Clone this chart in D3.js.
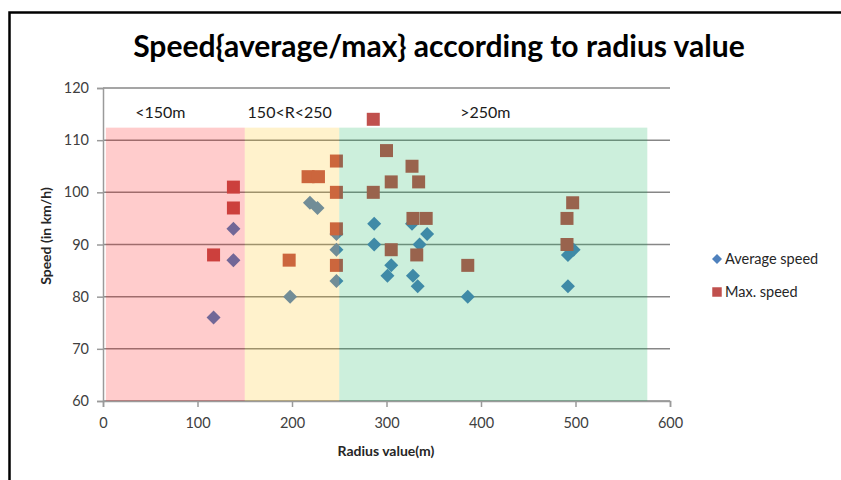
<!DOCTYPE html>
<html>
<head>
<meta charset="utf-8">
<script src="https://cdn.jsdelivr.net/npm/d3@7"></script>
<style>
  body { margin: 0; background: #fff; }
  svg { display: block; font-family: Lato, "Open Sans", sans-serif; }
</style>
</head>
<body>
<svg id="chart" width="841" height="480"></svg>
<script>
// values
const avgRadius = [117, 138, 138, 198, 219, 227, 247, 247, 247, 287, 287, 301, 305, 327, 328, 333, 335, 343, 386, 492, 498, 492];
const avgSpeed  = [76, 93, 87, 80, 98, 97, 92, 89, 83, 94, 90, 84, 86, 94, 84, 82, 90, 92, 80, 88, 89, 82];
const maxRadius = [117, 138, 138, 197, 217, 228, 247, 247, 247, 247, 286, 286, 300, 305, 305, 327, 334, 328, 342, 332, 386, 491, 491, 497];
const maxSpeed  = [88, 101, 97, 87, 103, 103, 106, 100, 93, 86, 114, 100, 108, 102, 89, 105, 102, 95, 95, 88, 86, 95, 90, 98];

const bandLabels = ['<150m', '150<R<250', '>250m'];
const bandFrom = [3, 150, 250];
const bandTo = [150, 250, 576];
const bandTop = 112.4;
const bandLabelAt = [34, 153, 378];
const bandColors = ['#ff0000', '#ffc000', '#00b050'];

const xTicks = [0, 100, 200, 300, 400, 500, 600];
const yTicks = [60, 70, 80, 90, 100, 110, 120];

const svg = d3.select('#chart');
const x = d3.scaleLinear().domain([0, 600]).range([103, 670]);
const y = d3.scaleLinear().domain([60, 120]).range([401, 88]);

const zip = (a, b) => a.map((d, i) => [d, b[i]]);

// outer frame
svg.append('rect')
  .attr('x', 9.5).attr('y', 12.5)
  .attr('width', 900).attr('height', 600)
  .attr('fill', 'none').attr('stroke', '#000').attr('stroke-width', 2.5);

// title, fitted to the width it has in the picture
const title = svg.append('text')
  .attr('x', 439).attr('y', 57)
  .attr('text-anchor', 'middle')
  .attr('font-weight', 'bold')
  .attr('font-size', 28)
  .attr('fill', '#000')
  .text('Speed{average/max} according to radius value');
const tw = title.node().getComputedTextLength();
title.attr('font-size', 28 * 612 / tw);

// gridlines
svg.append('g').attr('class', 'grid')
  .selectAll('line')
  .data(yTicks)
  .enter().append('line')
  .attr('x1', x(0)).attr('x2', x(600))
  .attr('y1', d => y(d)).attr('y2', d => y(d))
  .attr('stroke', '#878787').attr('stroke-width', 1.5);

// axes
const yAxis = svg.append('g')
  .attr('transform', `translate(${x(0)},0)`)
  .call(d3.axisLeft(y).tickValues(yTicks).tickSize(6).tickPadding(8));
const xAxis = svg.append('g')
  .attr('transform', `translate(0,${y(60)})`)
  .call(d3.axisBottom(x).tickValues(xTicks).tickSize(6).tickPadding(8));
[xAxis, yAxis].forEach(g => {
  g.select('.domain').attr('stroke', '#9a9a9a').attr('stroke-width', 1.5);
  g.selectAll('.tick line').attr('stroke', '#9a9a9a').attr('stroke-width', 1.5);
  g.selectAll('.tick text')
    .attr('font-family', 'Lato, sans-serif')
    .attr('font-size', 14.5)
    .attr('fill', '#404040');
});
xAxis.selectAll('.tick text').attr('dy', '0.9em');

// markers
const diamond = d3.symbol().type(d3.symbolSquare).size(98);
const square = d3.symbol().type(d3.symbolSquare).size(169);

svg.append('g').attr('class', 'avg')
  .selectAll('path')
  .data(zip(avgRadius, avgSpeed))
  .enter().append('path')
  .attr('d', diamond)
  .attr('transform', d => `translate(${x(d[0])},${y(d[1])}) rotate(45)`)
  .attr('fill', '#4f81bd');

svg.append('g').attr('class', 'max')
  .selectAll('path')
  .data(zip(maxRadius, maxSpeed))
  .enter().append('path')
  .attr('d', square)
  .attr('transform', d => `translate(${x(d[0])},${y(d[1])})`)
  .attr('fill', '#c0504d');

// radius bands lie over the points, semi transparent, and tint them
svg.append('g').attr('class', 'bands')
  .selectAll('rect')
  .data(bandLabels)
  .enter().append('rect')
  .attr('x', (d, i) => x(bandFrom[i]))
  .attr('width', (d, i) => x(bandTo[i]) - x(bandFrom[i]))
  .attr('y', y(bandTop))
  .attr('height', y(60) - y(bandTop))
  .attr('fill', (d, i) => bandColors[i])
  .attr('fill-opacity', 0.2);

svg.append('g').attr('class', 'band-labels')
  .selectAll('text')
  .data(bandLabels)
  .enter().append('text')
  .attr('x', (d, i) => x(bandLabelAt[i]))
  .attr('y', 118)
  .attr('font-size', 16)
  .attr('fill', '#1a1a1a')
  .text(d => d);

// axis titles
svg.append('text')
  .attr('x', 386).attr('y', 456)
  .attr('text-anchor', 'middle')
  .attr('font-weight', 'bold').attr('font-size', 14)
  .attr('fill', '#262626')
  .text('Radius value(m)');
svg.append('text')
  .attr('transform', 'translate(51,236) rotate(-90)')
  .attr('text-anchor', 'middle')
  .attr('font-weight', 'bold').attr('font-size', 14)
  .attr('fill', '#262626')
  .text('Speed (in km/h)');

// legend
const legendData = [
  { text: 'Average speed', color: '#4f81bd', sym: d3.symbol().type(d3.symbolSquare).size(50), rot: 45 },
  { text: 'Max. speed', color: '#c0504d', sym: d3.symbol().type(d3.symbolSquare).size(90), rot: 0 }
];
const legends = svg.append('g').attr('class', 'legends')
  .selectAll('g')
  .data(legendData)
  .enter().append('g')
  .attr('transform', (d, i) => `translate(717,${259 + i * 33})`);
legends.append('path')
  .attr('d', d => d.sym())
  .attr('transform', d => `rotate(${d.rot})`)
  .attr('fill', d => d.color);
legends.append('text')
  .attr('x', 8).attr('dy', '0.35em')
  .attr('font-size', 14.5)
  .attr('fill', '#262626')
  .text(d => d.text);
</script>
</body>
</html>
